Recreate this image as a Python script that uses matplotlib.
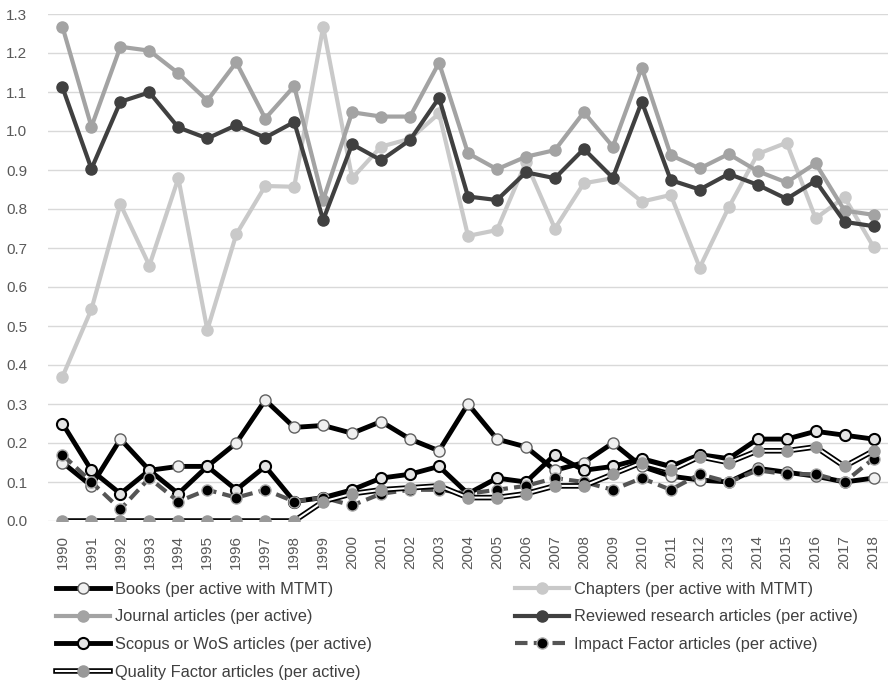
import numpy as np
import matplotlib
matplotlib.use("Agg")
from matplotlib import pyplot as plt

plt.rcParams['font.family'] = ['Liberation Sans Narrow', 'Liberation Sans', 'DejaVu Sans']

years = [str(y) for y in range(1990, 2019)]

books = [0.15, 0.09, 0.21, 0.13, 0.14, 0.14, 0.20, 0.31, 0.24, 0.245, 0.225, 0.255, 0.21, 0.18,
         0.30, 0.21, 0.19, 0.13, 0.15, 0.20, 0.14, 0.115, 0.105, 0.10, 0.135, 0.125, 0.115, 0.10, 0.11]
chapters = [0.37, 0.543, 0.812, 0.655, 0.879, 0.49, 0.735, 0.859, 0.857, 1.267, 0.879, 0.96, 0.98, 1.045,
            0.731, 0.746, 0.92, 0.75, 0.866, 0.879, 0.819, 0.836, 0.65, 0.804, 0.941, 0.97, 0.776, 0.83, 0.703]
journal = [1.267, 1.011, 1.216, 1.206, 1.148, 1.078, 1.176, 1.032, 1.115, 0.823, 1.048, 1.037, 1.037, 1.175,
           0.943, 0.902, 0.934, 0.951, 1.048, 0.96, 1.162, 0.938, 0.904, 0.941, 0.897, 0.868, 0.917, 0.796, 0.785]
reviewed = [1.112, 0.903, 1.075, 1.099, 1.009, 0.981, 1.015, 0.983, 1.023, 0.772, 0.966, 0.925, 0.977, 1.085,
            0.832, 0.823, 0.894, 0.879, 0.954, 0.88, 1.075, 0.874, 0.85, 0.89, 0.862, 0.826, 0.872, 0.767, 0.756]
scopus = [0.25, 0.13, 0.07, 0.13, 0.07, 0.14, 0.08, 0.14, 0.05, 0.06, 0.08, 0.11, 0.12, 0.14,
          0.07, 0.11, 0.10, 0.17, 0.13, 0.14, 0.16, 0.14, 0.17, 0.16, 0.21, 0.21, 0.23, 0.22, 0.21]
impact = [0.17, 0.10, 0.03, 0.11, 0.05, 0.08, 0.06, 0.08, 0.05, 0.06, 0.04, 0.07, 0.08, 0.08,
          0.07, 0.08, 0.09, 0.11, 0.10, 0.08, 0.11, 0.08, 0.12, 0.10, 0.13, 0.12, 0.12, 0.10, 0.16]
quality = [0, 0, 0, 0, 0, 0, 0, 0, 0, 0.05, 0.07, 0.08, 0.085, 0.09,
           0.06, 0.06, 0.07, 0.09, 0.09, 0.12, 0.15, 0.13, 0.165, 0.15, 0.18, 0.18, 0.19, 0.14, 0.18]

labels = ["Books (per active with MTMT)", "Chapters (per active with MTMT)",
          "Journal articles (per active)", "Reviewed research articles (per active)",
          "Scopus or WoS articles (per active)", "Impact Factor articles (per active)",
          "Quality Factor articles (per active)"]

fig = plt.figure(figsize=(8.88, 6.82), dpi=100)
ax = fig.add_axes([48 / 888, 1 - 521 / 682, 840 / 888, 507 / 682])
x = np.arange(len(years))
ms = 8

h_books = ax.plot(x, books, color='black', lw=3.5, marker='o', ms=ms,
                  mfc='#f0f0f0', mec='#606060', mew=1, zorder=3)[0]
h_chap = ax.plot(x, chapters, color='#c9c9c9', lw=3, marker='o', ms=ms, zorder=3)[0]
h_jour = ax.plot(x, journal, color='#a3a3a3', lw=3, marker='o', ms=ms, zorder=3)[0]
h_rev = ax.plot(x, reviewed, color='#404040', lw=3, marker='o', ms=ms, zorder=3)[0]
h_sco = ax.plot(x, scopus, color='black', lw=3.5, marker='o', ms=ms,
                mfc='#e4e4e4', mec='black', mew=1.5, zorder=3)[0]
h_if = ax.plot(x, impact, color='#555555', lw=3, ls=(0, (3, 1.5)), marker='o', ms=ms,
               mfc='black', mec='#aaaaaa', mew=1, zorder=3)[0]
q_out = ax.plot(x, quality, color='black', lw=4, zorder=3)[0]
q_in = ax.plot(x, quality, color='white', lw=1.5, marker='o', ms=ms,
               mfc='#999999', mec='#999999', zorder=3)[0]

ax.set_xlim(-0.5, 28.5)
ax.set_ylim(0, 1.3)
ax.set_yticks(np.arange(0, 1.31, 0.1))
ax.yaxis.set_major_formatter(matplotlib.ticker.FormatStrFormatter('%.1f'))
ax.set_xticks(x)
ax.set_xticklabels(years, rotation=90)
ax.tick_params(length=0, labelsize=11, colors='#595959')
ax.tick_params(axis='y', pad=15)
ax.tick_params(axis='x', pad=10)
ax.grid(axis='y', color='#d9d9d9', lw=1)
ax.set_axisbelow(True)
for s in ax.spines.values():
    s.set_visible(False)

kw = dict(frameon=False, fontsize=11.8, handlelength=3.35, handletextpad=0.3,
          labelspacing=0.78, labelcolor='#404040', loc='upper left', borderaxespad=0)
fig.legend([h_books, h_jour, h_sco, (q_out, q_in)],
           [labels[0], labels[2], labels[4], labels[6]],
           bbox_to_anchor=(49 / 888, 1 - 575 / 682), **kw)
fig.legend([h_chap, h_rev, h_if], [labels[1], labels[3], labels[5]],
           bbox_to_anchor=(508 / 888, 1 - 575 / 682), **kw)

fig.savefig('out.png', dpi=100)
